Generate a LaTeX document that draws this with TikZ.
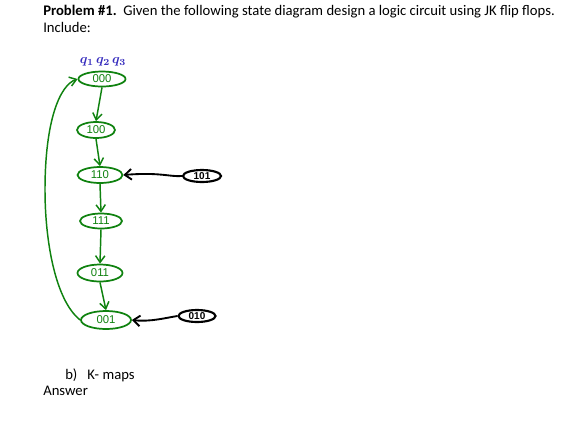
\documentclass[tikz,border=0pt]{standalone}
\usepackage{amsmath}
\usepackage{bm}
\usepackage{fontspec}
\setmainfont{Carlito}
\setsansfont{Liberation Sans}
\usetikzlibrary{shapes.geometric,arrows.meta}
\definecolor{hgreen}{RGB}{15,130,15}
\definecolor{hblue}{RGB}{55,45,190}
\begin{document}
\begin{tikzpicture}[x=0.75pt,y=-0.75pt,
  st/.style={ellipse,draw=hgreen,line width=1.3pt,inner sep=0pt,text=hgreen,font=\sffamily\fontsize{8.5}{9}\selectfont},
  bst/.style={ellipse,draw=black,line width=1.6pt,inner sep=0pt,text=black,font=\sffamily\bfseries\fontsize{7.5}{8}\selectfont},
  garr/.style={draw=hgreen,line width=1.1pt,-{Straight Barb[length=5pt,width=7pt]}},
  barr/.style={draw=black,line width=1.4pt,-{Straight Barb[length=5pt,width=8pt]}},
  txt/.style={anchor=base west,inner sep=0pt,font=\fontsize{11}{13}\selectfont}]
\useasboundingbox[fill=white] (0,0) rectangle (569,430);
\node[txt] (t1) at (43,15) {\textbf{Problem \#1.}\ \ Given the following state diagram design a logic circuit using JK flip flops.};
\node[txt] (t2) at (43,32) {Include:};
\node[txt] (t3) at (65,379) {b)\ \ \ K- maps};
\node[txt] (t4) at (43,395) {Answer};
\node[text=hblue,font=\fontsize{10}{11}\selectfont] (q) at (103,62) {$\bm{q_1\,q_2\,q_3}$};
\node[st,minimum width=47*0.75pt,minimum height=15*0.75pt] (s000) at (102,79) {000};
\node[st,minimum width=38*0.75pt,minimum height=16*0.75pt] (s100) at (96,130) {100};
\node[st,minimum width=45*0.75pt,minimum height=16*0.75pt] (s110) at (100,175) {110};
\node[st,minimum width=42*0.75pt,minimum height=15*0.75pt] (s111) at (101,221) {111};
\node[st,minimum width=45*0.75pt,minimum height=17*0.75pt] (s011) at (100,273) {011};
\node[st,minimum width=50*0.75pt,minimum height=18*0.75pt] (s001) at (106,320) {001};
\node[bst,minimum width=38*0.75pt,minimum height=12*0.75pt] (s101) at (202,176) {101};
\node[bst,minimum width=37*0.75pt,minimum height=12*0.75pt] (s010) at (197,316) {010};
\draw[garr] (s000.south) -- (s100.north);
\draw[garr] (s100.south) -- (s110.north);
\draw[garr] (s110.south) -- (s111.north);
\draw[garr] (s111.south) -- (s011.north);
\draw[garr] (s011.south) -- (s001.north);
\draw[barr] (s101.west) .. controls (170,177) and (160,172) .. (s110.east);
\draw[barr] (s010.west) .. controls (165,318) and (150,322) .. (s001.east);
\draw[garr] (s001.west) .. controls (55,300) and (45,240) .. (45,190) .. controls (45,120) and (60,85) .. (s000.west);
\end{tikzpicture}
\end{document}
